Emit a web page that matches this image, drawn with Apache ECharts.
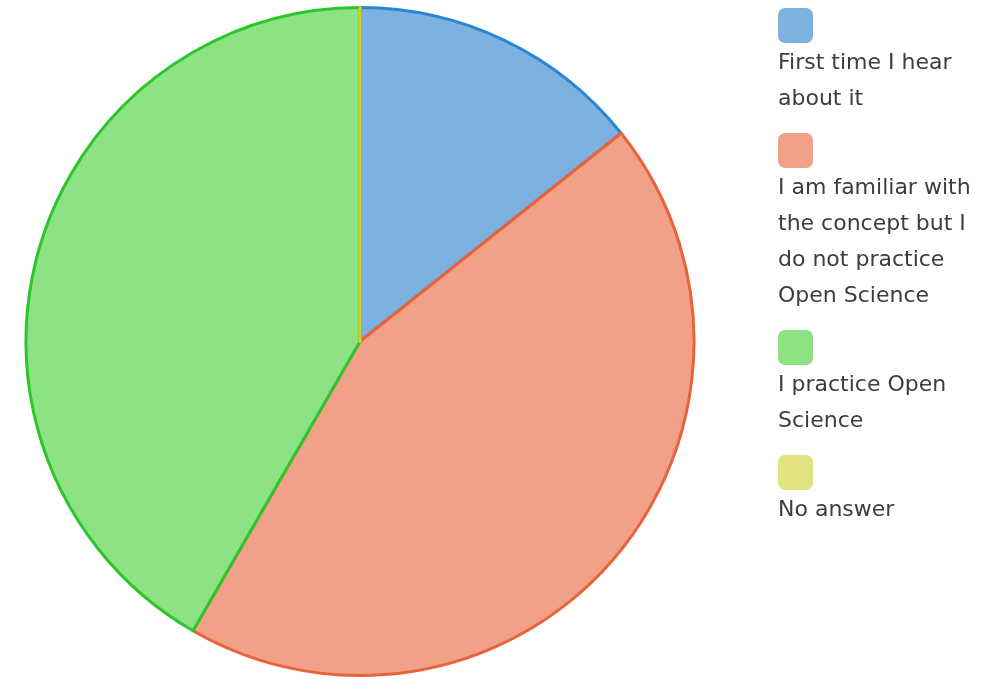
<!DOCTYPE html>
<html>
<head>
<meta charset="utf-8">
<style>
  html, body { margin: 0; padding: 0; background: #ffffff; }
  #chart { width: 992px; height: 679px; }
</style>
<script src="https://cdn.jsdelivr.net/npm/echarts@6/dist/echarts.min.js"></script>
</head>
<body>
<div id="chart"></div>
<script>
// Survey answers: awareness of Open Science (number of respondents)
const categories = [
  'First time I hear about it',
  'I am familiar with the concept but I do not practice Open Science',
  'I practice Open Science',
  'No answer'
];
const counts = [12, 37, 35, 0];

// Legend text broken into lines
const legendLines = [
  ['First time I hear', 'about it'],
  ['I am familiar with', 'the concept but I', 'do not practice', 'Open Science'],
  ['I practice Open', 'Science'],
  ['No answer']
];

const fillColors = ['#7db2e0', '#f2a189', '#8de284', '#e3e283'];
const borderColors = ['#2a86d4', '#e8633a', '#2cc52a', '#d6d11e'];

const chart = echarts.init(document.getElementById('chart'), null, { renderer: 'canvas' });

const rich = {
  t: {
    fontFamily: 'DejaVu Sans, sans-serif',
    fontSize: 22,
    lineHeight: 36,
    color: '#3b3c44'
  }
};
fillColors.forEach((c, i) => {
  rich['b' + i] = {
    width: 35,
    height: 35,
    lineHeight: 37,
    verticalAlign: 'top',
    backgroundColor: c,
    borderRadius: 7
  };
});

chart.setOption({
  animation: false,
  legend: {
    orient: 'vertical',
    left: 773,
    top: 8,
    icon: 'none',
    itemWidth: 0,
    itemHeight: 10,
    itemGap: 23,
    padding: 0,
    selectedMode: false,
    data: categories,
    formatter: function (name) {
      const i = categories.indexOf(name);
      return '{b' + i + '|}\n' + legendLines[i].map(l => '{t|' + l + '}').join('\n');
    },
    textStyle: { rich: rich, padding: 0 }
  },
  series: [{
    type: 'pie',
    center: [360, 341.5],
    radius: 334,
    startAngle: 90,
    clockwise: true,
    minAngle: 0,
    avoidLabelOverlap: false,
    label: { show: false },
    labelLine: { show: false },
    emphasis: { disabled: true },
    data: categories.map((name, i) => ({
      name: name,
      value: counts[i],
      itemStyle: {
        color: fillColors[i],
        borderColor: borderColors[i],
        borderWidth: 3
      }
    }))
  }]
});
</script>
</body>
</html>
